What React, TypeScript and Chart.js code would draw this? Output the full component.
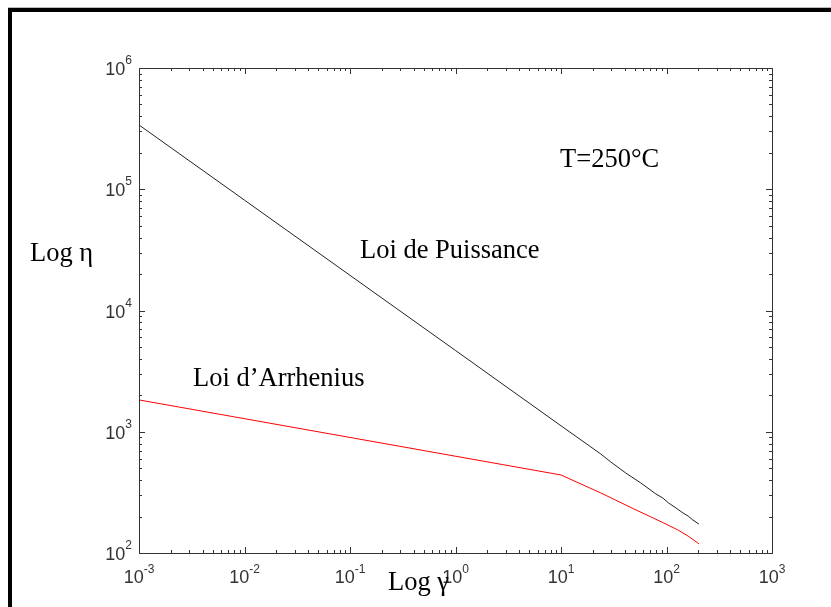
import React, { useEffect, useRef } from "react";
import { Chart, registerables } from "chart.js";

Chart.register(...registerables);

// Power law (Loi de Puissance) curve
const shearRatePower = [0.001, 0.01, 0.1, 1, 10, 23.8, 29.6, 41.1, 57.1, 79.3, 92.3, 105, 123, 143, 160, 178, 203];
const viscosityPower = [339000, 81300, 19500, 4680, 1120, 656, 564, 457, 378, 307, 284, 258, 235, 214, 202, 187, 173];

// Arrhenius law (Loi d'Arrhenius) curve
const shearRateArrhenius = [0.001, 10, 23.8, 49, 94, 128, 160, 203];
const viscosityArrhenius = [1830, 440, 313, 231, 177, 155, 138, 119];

// Axis decades
const xTickExponents = [-3, -2, -1, 0, 1, 2, 3];
const yTickExponents = [2, 3, 4, 5, 6];

const X_MIN = 1e-3;
const X_MAX = 1e3;
const Y_MIN = 1e2;
const Y_MAX = 1e6;

const annotations = [
  { text: "T=250°C", x: 560, y: 167 },
  { text: "Loi de Puissance", x: 360, y: 258 },
  { text: "Loi d\u2019Arrhenius", x: 193, y: 386 },
  { text: "Log \u03b7", x: 30, y: 261 },
  { text: "Log \u03b3", x: 388, y: 590 },
];

const figurePlugin = {
  id: "figurePlugin",
  afterDraw(chart: any) {
    const { ctx, chartArea } = chart;
    const xs = chart.scales.x;
    const ys = chart.scales.y;
    const { left, right, top, bottom } = chartArea;
    ctx.save();

    // axes box
    ctx.strokeStyle = "#333";
    ctx.lineWidth = 1;
    ctx.strokeRect(Math.round(left) + 0.5, Math.round(top) + 0.5, Math.round(right - left), Math.round(bottom - top));

    // inward ticks
    ctx.beginPath();
    for (let k = -3; k <= 3; k++) {
      for (let m = 1; m <= 9; m++) {
        const v = m * Math.pow(10, k);
        if (v < X_MIN * 0.999 || v > X_MAX * 1.001) continue;
        const px = Math.round(xs.getPixelForValue(v)) + 0.5;
        const len = m === 1 ? 6 : 3;
        ctx.moveTo(px, bottom);
        ctx.lineTo(px, bottom - len);
        ctx.moveTo(px, top);
        ctx.lineTo(px, top + len);
      }
    }
    for (let k = 2; k <= 6; k++) {
      for (let m = 1; m <= 9; m++) {
        const v = m * Math.pow(10, k);
        if (v < Y_MIN * 0.999 || v > Y_MAX * 1.001) continue;
        const py = Math.round(ys.getPixelForValue(v)) + 0.5;
        const len = m === 1 ? 6 : 3;
        ctx.moveTo(left, py);
        ctx.lineTo(left + len, py);
        ctx.moveTo(right, py);
        ctx.lineTo(right - len, py);
      }
    }
    ctx.stroke();

    // tick labels: 10^k
    ctx.fillStyle = "#333";
    const baseFont = "18px 'Liberation Sans', Arial, sans-serif";
    const expFont = "12px 'Liberation Sans', Arial, sans-serif";
    ctx.textBaseline = "alphabetic";
    ctx.textAlign = "left";
    xTickExponents.forEach((e) => {
      const px = xs.getPixelForValue(Math.pow(10, e));
      ctx.font = baseFont;
      const wb = ctx.measureText("10").width;
      ctx.font = expFont;
      const we = ctx.measureText(String(e)).width;
      const start = px - (wb + we) / 2;
      ctx.font = baseFont;
      ctx.fillText("10", start, bottom + 30);
      ctx.font = expFont;
      ctx.fillText(String(e), start + wb, bottom + 20);
    });
    yTickExponents.forEach((e) => {
      const py = ys.getPixelForValue(Math.pow(10, e));
      ctx.font = baseFont;
      const wb = ctx.measureText("10").width;
      ctx.font = expFont;
      const we = ctx.measureText(String(e)).width;
      const start = left - 7 - (wb + we);
      ctx.font = baseFont;
      ctx.fillText("10", start, py + 7);
      ctx.font = expFont;
      ctx.fillText(String(e), start + wb, py - 4);
    });

    // annotations
    ctx.fillStyle = "#000";
    ctx.font = "26.5px 'Liberation Serif', 'Times New Roman', serif";
    annotations.forEach((a) => ctx.fillText(a.text, a.x, a.y));

    // figure frame (top and left)
    ctx.fillStyle = "#000";
    ctx.fillRect(8, 8, chart.width - 8, 4);
    ctx.fillRect(8, 8, 4, chart.height - 8);
    ctx.fillStyle = "#bbb";
    ctx.fillRect(8, 7, chart.width - 8, 1);

    ctx.restore();
  },
};

export default function App() {
  const canvasRef = useRef<HTMLCanvasElement | null>(null);

  useEffect(() => {
    document.body.style.margin = "0";
    const canvas = canvasRef.current;
    if (!canvas) return;
    const powerData = shearRatePower.map((x, i) => ({ x, y: viscosityPower[i] }));
    const arrData = shearRateArrhenius.map((x, i) => ({ x, y: viscosityArrhenius[i] }));

    const noSpace = (scale: any) => {
      if (scale.isHorizontal()) scale.height = 0;
      else scale.width = 0;
    };

    const chart = new Chart(canvas, {
      type: "scatter",
      data: {
        datasets: [
          {
            label: "Loi de Puissance",
            data: powerData,
            showLine: true,
            borderColor: "#222",
            backgroundColor: "#222",
            borderWidth: 1,
            pointRadius: 0,
            tension: 0,
          },
          {
            label: "Loi d\u2019Arrhenius",
            data: arrData,
            showLine: true,
            borderColor: "#ff0000",
            backgroundColor: "#ff0000",
            borderWidth: 1,
            pointRadius: 0,
            tension: 0,
          },
        ],
      },
      options: {
        responsive: false,
        animation: false,
        devicePixelRatio: 1,
        layout: { padding: { left: 139, top: 68, right: 59, bottom: 54 } },
        plugins: {
          legend: { display: false },
          tooltip: { enabled: false },
          title: { display: false },
        },
        scales: {
          x: {
            type: "logarithmic",
            min: X_MIN,
            max: X_MAX,
            grid: { display: false, drawTicks: false },
            border: { display: false },
            ticks: { display: false },
            afterFit: noSpace,
          },
          y: {
            type: "logarithmic",
            min: Y_MIN,
            max: Y_MAX,
            grid: { display: false, drawTicks: false },
            border: { display: false },
            ticks: { display: false },
            afterFit: noSpace,
          },
        },
      },
      plugins: [figurePlugin],
    } as any);
    return () => chart.destroy();
  }, []);

  return (
    <div style={{ position: "absolute", left: 0, top: 0, width: 831, height: 607, background: "#fff" }}>
      <canvas ref={canvasRef} width={831} height={607} style={{ display: "block", width: 831, height: 607 }} />
    </div>
  );
}
